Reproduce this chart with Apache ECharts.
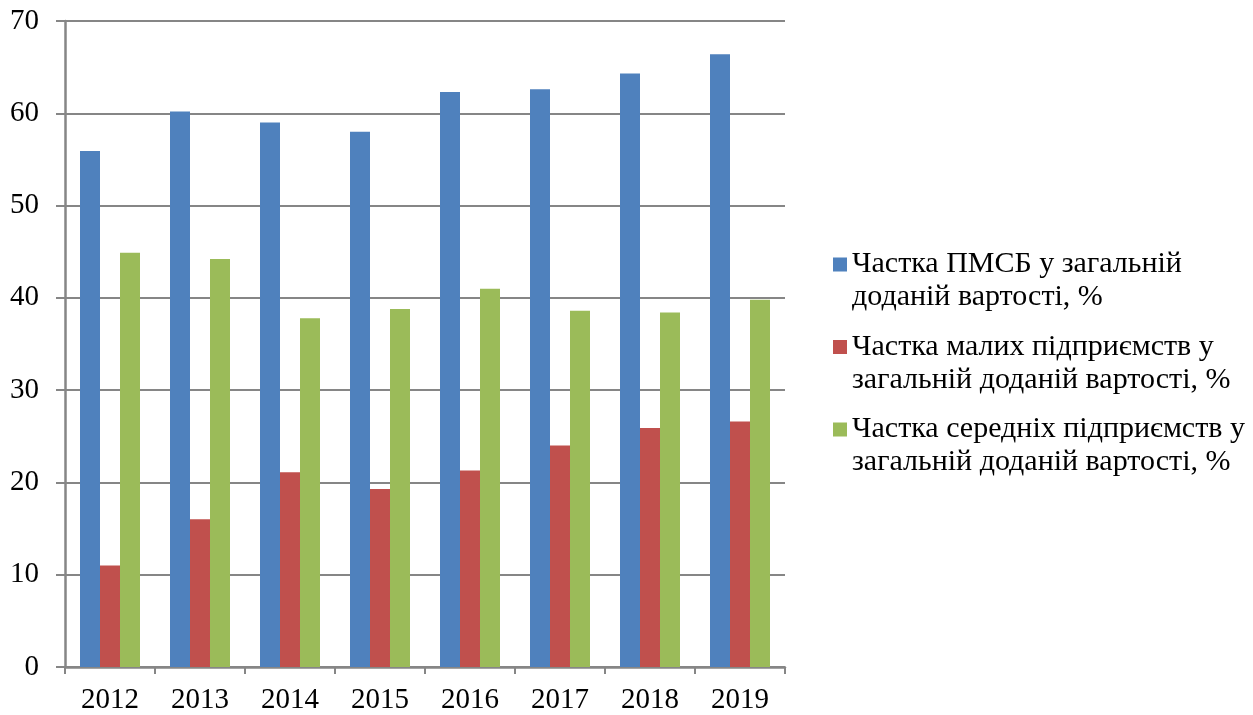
<!DOCTYPE html>
<html>
<head>
<meta charset="utf-8">
<script src="https://cdn.jsdelivr.net/npm/echarts@6/dist/echarts.min.js"></script>
<style>
  html, body { margin: 0; padding: 0; background: #fff; }
  #chart { width: 1253px; height: 715px; }
</style>
</head>
<body>
<div id="chart"></div>
<script>
const years = ['2012', '2013', '2014', '2015', '2016', '2017', '2018', '2019'];
const smeShare = [55.9, 60.2, 59.0, 58.0, 62.3, 62.6, 64.3, 66.4];
const smallShare = [11.0, 16.0, 21.1, 19.3, 21.3, 24.0, 25.9, 26.6];
const mediumShare = [44.9, 44.2, 37.8, 38.8, 41.0, 38.6, 38.4, 39.8];
const seriesNames = [
  'Частка ПМСБ у загальній\nдоданій вартості, %',
  'Частка малих підприємств у\nзагальній доданій вартості, %',
  'Частка середніх підприємств у\nзагальній доданій вартості, %'
];

const chart = echarts.init(document.getElementById('chart'));
const font = '"Liberation Serif", "Times New Roman", serif';
const gray = '#868686';

// square sits at the top of a taller icon box so it lines up with the first text line
const legendIcon = 'path://M0,0L14,0L14,14L0,14Z M0,47L0.01,47';

function bar(name, data, color) {
  return {
    name: name,
    type: 'bar',
    data: data,
    barWidth: 20,
    barGap: '0%',
    itemStyle: { color: color },
    emphasis: { disabled: true }
  };
}

const option = {
  animation: false,
  textStyle: { fontFamily: font },
  grid: { left: 65, right: 468, top: 21, bottom: 48, containLabel: false },
  legend: {
    orient: 'vertical',
    left: 828,
    top: 243,
    itemWidth: 14,
    itemHeight: 47,
    itemGap: 16.5,
    icon: legendIcon,
    textStyle: {
      fontFamily: font,
      fontSize: 30,
      color: '#000',
      lineHeight: 33
    },
    data: seriesNames
  },
  xAxis: {
    type: 'category',
    data: years,
    boundaryGap: true,
    axisLine: { lineStyle: { color: gray, width: 2.5 } },
    axisTick: { show: true, length: 7, lineStyle: { color: gray, width: 2 } },
    axisLabel: { fontFamily: font, fontSize: 29, color: '#000', margin: 19 }
  },
  yAxis: {
    type: 'value',
    min: 0,
    max: 70,
    interval: 10,
    axisLine: { show: true, lineStyle: { color: gray, width: 2.5 } },
    axisTick: { show: true, length: 9, lineStyle: { color: gray, width: 2 } },
    splitLine: { lineStyle: { color: gray, width: 2 } },
    axisLabel: { fontFamily: font, fontSize: 29, color: '#000', margin: 26 }
  },
  series: [
    bar(seriesNames[0], smeShare, '#4F81BD'),
    bar(seriesNames[1], smallShare, '#C0504D'),
    bar(seriesNames[2], mediumShare, '#9BBB59')
  ]
};

chart.setOption(option);
</script>
</body>
</html>
